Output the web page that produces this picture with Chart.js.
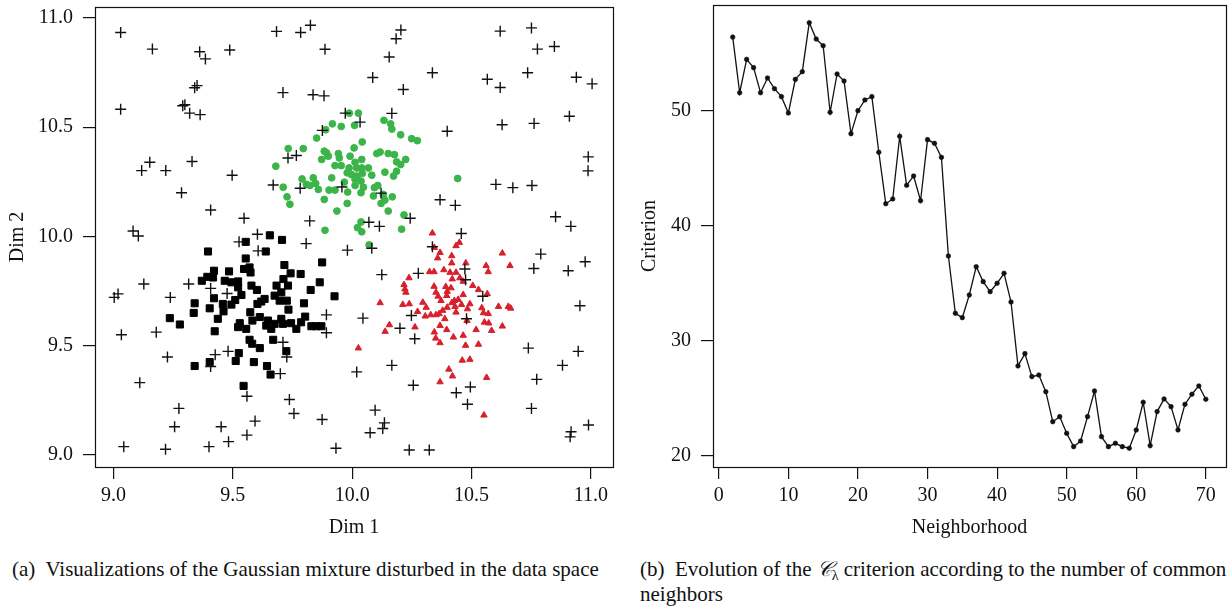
<!DOCTYPE html>
<html>
<head>
<meta charset="utf-8">
<script src="https://cdn.jsdelivr.net/npm/chart.js@4/dist/chart.umd.min.js"></script>
<style>
  body { margin: 0; background: #fff; width: 1232px; height: 609px; position: relative; overflow: hidden; }
  canvas { position: absolute; top: 0; }
  #leftChart { left: 0; }
  #rightChart { left: 620px; }
  .caption { position: absolute; font-family: "Liberation Serif", serif; font-size: 21px; color: #111; line-height: 25px; white-space: nowrap; }
  .scr { font-family: "DejaVu Serif", "DejaVu Sans", serif; font-style: italic; }
  .caption sub { font-size: 14px; line-height: 0; vertical-align: -4px; }
</style>
</head>
<body>
<canvas id="leftChart" width="625" height="540"></canvas>
<canvas id="rightChart" width="612" height="540"></canvas>
<div class="caption" style="left:12px; top:557px;">(a)&nbsp; Visualizations of the Gaussian mixture disturbed in the data space</div>
<div class="caption" style="left:640px; top:557px;">(b)&nbsp; Evolution of the <span class="scr">𝒞</span><sub>λ</sub> criterion according to the number of common<br>neighbors</div>

<script>
// panel (a) - scatter of gaussian clusters + uniform noise
// panel (b) - criterion vs neighborhood size

// ============================
// DATA
// ============================
const xTicksA = [9.0, 9.5, 10.0, 10.5, 11.0];
const yTicksA = [9.0, 9.5, 10.0, 10.5, 11.0];

// noise points (crosses)
const noisePts = [
  [9.030,10.933],[9.163,10.857],[9.361,10.845],[9.385,10.812],[9.487,10.853],[9.683,10.938],
  [9.784,10.933],[9.825,10.966],[9.886,10.856],[9.350,10.690],[9.340,10.680],[9.710,10.658],
  [9.836,10.648],[9.882,10.643],[9.030,10.582],[9.299,10.602],[9.290,10.598],[9.319,10.564],
  [9.363,10.557],[9.971,10.564],[9.875,10.485],[9.152,10.339],[9.118,10.301],[9.219,10.301],
  [9.329,10.343],[9.497,10.280],[9.731,10.359],[9.766,10.370],[9.669,10.235],[9.782,10.220],
  [9.957,10.226],[9.285,10.200],[9.407,10.121],[9.547,10.083],[9.822,10.071],[9.082,10.025],
  [9.104,10.002],[9.603,10.010],
  [10.204,10.944],[10.184,10.904],[10.155,10.821],[10.086,10.727],[10.336,10.749],[10.214,10.672],
  [10.620,10.939],[10.751,10.954],[10.776,10.857],[10.847,10.869],[10.566,10.719],[10.620,10.681],
  [10.735,10.749],[10.939,10.728],[11.005,10.698],[10.166,10.563],[10.033,10.523],[10.398,10.481],
  [10.628,10.511],[10.762,10.517],[10.910,10.550],[10.989,10.364],[10.988,10.300],[10.602,10.238],
  [10.673,10.223],[10.753,10.233],[10.121,10.198],[10.368,10.168],[10.432,10.142],[10.243,10.083],
  [10.070,10.065],[10.114,10.046],[10.852,10.090],[10.916,10.046],[10.457,10.013],
  [9.526,9.975],[9.606,9.934],[9.807,9.967],[9.980,9.937],[9.127,9.782],[9.315,9.782],
  [9.019,9.737],[9.003,9.721],[9.238,9.721],[9.407,9.762],[9.476,9.739],[9.033,9.550],
  [9.179,9.562],[9.892,9.641],[9.892,9.559],[9.710,9.516],[9.226,9.448],[9.426,9.459],
  [9.480,9.474],[9.407,9.405],[9.726,9.448],[9.699,9.372],[9.110,9.331],[9.559,9.269],
  [9.737,9.254],[9.756,9.190],[9.274,9.213],[9.256,9.129],[9.451,9.129],[9.593,9.155],
  [9.559,9.091],[9.482,9.061],[9.400,9.038],[9.874,9.162],[9.932,9.031],[9.043,9.038],
  [9.218,9.026],
  [10.082,9.946],[10.336,9.953],[10.790,9.919],[10.976,9.884],[10.761,9.853],[10.905,9.843],
  [10.124,9.825],[10.277,9.831],[10.472,9.851],[10.475,9.802],[10.547,9.726],[10.954,9.683],
  [10.045,9.626],[10.248,9.638],[10.479,9.623],[10.200,9.580],[10.262,9.532],[10.738,9.489],
  [10.947,9.474],[10.166,9.410],[10.019,9.380],[10.881,9.410],[10.773,9.346],[10.256,9.319],
  [10.495,9.311],[10.436,9.285],[10.483,9.232],[10.751,9.213],[10.096,9.205],[10.135,9.147],
  [10.128,9.121],[10.075,9.102],[10.239,9.023],[10.323,9.023],[10.990,9.137],[10.917,9.106],
  [10.913,9.083]
];

// cluster 1 (black squares)
const squarePts = [
  [9.655,10.005],[9.706,9.984],[9.554,9.975],[9.638,9.931],[9.396,9.931],[9.554,9.899],
  [9.874,9.881],[9.716,9.869],[9.421,9.843],[9.484,9.840],[9.547,9.851],[9.570,9.858],
  [9.574,9.835],[9.742,9.831],[9.784,9.828],[9.393,9.815],[9.417,9.812],[9.370,9.797],
  [9.466,9.797],[9.522,9.794],[9.494,9.790],[9.712,9.805],[9.864,9.790],[9.522,9.767],
  [9.578,9.775],[9.683,9.775],[9.731,9.775],[9.601,9.755],[9.826,9.755],[9.536,9.732],
  [9.675,9.729],[9.703,9.744],[9.926,9.726],[9.421,9.717],[9.510,9.709],[9.633,9.714],
  [9.696,9.706],[9.726,9.706],[9.340,9.694],[9.458,9.691],[9.494,9.688],[9.603,9.691],
  [9.619,9.702],[9.798,9.694],[9.403,9.671],[9.461,9.657],[9.336,9.650],[9.573,9.653],
  [9.733,9.665],[9.236,9.626],[9.437,9.623],[9.613,9.631],[9.582,9.615],[9.647,9.615],
  [9.703,9.623],[9.803,9.633],[9.278,9.597],[9.529,9.603],[9.522,9.585],[9.556,9.577],
  [9.640,9.592],[9.661,9.577],[9.675,9.600],[9.710,9.600],[9.744,9.603],[9.766,9.577],
  [9.786,9.607],[9.829,9.589],[9.849,9.589],[9.871,9.589],[9.424,9.566],[9.570,9.527],
  [9.581,9.509],[9.669,9.527],[9.613,9.489],[9.724,9.475],[9.525,9.466],[9.512,9.430],
  [9.403,9.425],[9.340,9.407],[9.588,9.425],[9.643,9.407],[9.658,9.368],[9.545,9.316]
];

// cluster 2 (green circles)
const circlePts = [
  [9.988,10.564],[10.026,10.564],[9.917,10.515],[9.954,10.503],[10.010,10.508],[9.889,10.488],
  [9.851,10.450],[10.133,10.531],[10.161,10.515],[10.166,10.491],[10.203,10.465],[10.249,10.447],
  [10.273,10.438],[10.042,10.432],[9.732,10.402],[9.795,10.402],[10.008,10.405],[9.883,10.390],
  [9.893,10.382],[9.900,10.367],[9.872,10.352],[9.942,10.379],[9.946,10.359],[9.991,10.367],
  [10.040,10.352],[10.103,10.379],[10.117,10.386],[10.151,10.379],[10.177,10.374],[10.224,10.352],
  [10.186,10.341],[10.203,10.329],[9.680,10.321],[9.928,10.324],[9.954,10.324],[10.012,10.339],
  [9.987,10.313],[10.019,10.313],[10.040,10.313],[10.068,10.313],[10.137,10.294],[10.186,10.298],
  [10.173,10.276],[9.979,10.291],[9.997,10.283],[10.019,10.276],[10.042,10.288],[10.082,10.280],
  [9.790,10.263],[9.837,10.268],[9.914,10.268],[9.967,10.248],[10.012,10.261],[10.037,10.253],
  [9.808,10.238],[9.823,10.233],[9.847,10.242],[9.711,10.225],[9.858,10.215],[9.903,10.212],
  [9.928,10.212],[9.981,10.203],[10.012,10.233],[10.047,10.225],[10.093,10.223],[10.107,10.233],
  [10.037,10.200],[10.089,10.185],[10.130,10.192],[10.168,10.181],[9.727,10.181],[9.739,10.147],
  [9.883,10.169],[9.979,10.151],[10.121,10.151],[10.137,10.166],[9.936,10.116],[10.151,10.116],
  [10.217,10.098],[10.037,10.066],[10.022,10.040],[10.040,10.021],[9.886,10.028],[10.207,10.033],
  [10.071,9.961],[10.442,10.265]
];

// cluster 3 (red triangles)
const trianglePts = [
  [10.336,10.015],[10.449,9.972],[10.435,9.957],[10.344,9.949],[10.368,9.926],[10.358,9.901],
  [10.417,9.911],[10.629,9.923],[10.476,9.878],[10.417,9.878],[10.561,9.866],[10.661,9.866],
  [10.324,9.838],[10.343,9.838],[10.384,9.847],[10.410,9.835],[10.435,9.835],[10.570,9.838],
  [10.238,9.810],[10.451,9.810],[10.419,9.805],[10.217,9.779],[10.343,9.771],[10.392,9.770],
  [10.414,9.764],[10.465,9.794],[10.505,9.775],[10.529,9.756],[10.221,9.759],[10.225,9.744],
  [10.351,9.744],[10.398,9.748],[10.566,9.737],[10.465,9.733],[10.360,9.726],[10.396,9.729],
  [10.372,9.706],[10.428,9.706],[10.444,9.711],[10.296,9.698],[10.417,9.696],[10.458,9.688],
  [10.493,9.691],[10.117,9.696],[10.212,9.688],[10.239,9.691],[10.310,9.675],[10.398,9.675],
  [10.431,9.679],[10.543,9.673],[10.613,9.679],[10.654,9.679],[10.664,9.671],[10.274,9.656],
  [10.306,9.635],[10.329,9.641],[10.351,9.641],[10.364,9.646],[10.379,9.661],[10.435,9.653],
  [10.483,9.668],[10.550,9.650],[10.570,9.646],[10.388,9.623],[10.481,9.615],[10.554,9.607],
  [10.572,9.603],[10.156,9.595],[10.138,9.565],[10.263,9.585],[10.368,9.592],[10.396,9.573],
  [10.465,9.547],[10.519,9.573],[10.584,9.569],[10.629,9.589],[10.344,9.562],[10.350,9.534],
  [10.368,9.513],[10.424,9.539],[10.475,9.501],[10.529,9.506],[10.026,9.489],[10.461,9.433],
  [10.493,9.437],[10.405,9.392],[10.420,9.361],[10.563,9.354],[10.368,9.334],[10.552,9.182]
];

// panel (b)
const neighborhood = [
  2, 3, 4, 5, 6, 7, 8, 9, 10, 11, 12, 13, 14, 15, 16, 17, 18, 19, 20, 21, 22, 23,
  24, 25, 26, 27, 28, 29, 30, 31, 32, 33, 34, 35, 36, 37, 38, 39, 40, 41, 42, 43, 44, 45,
  46, 47, 48, 49, 50, 51, 52, 53, 54, 55, 56, 57, 58, 59, 60, 61, 62, 63, 64, 65, 66,
  67, 68, 69, 70
];
const criterion = [
  56.43, 51.59, 54.49, 53.77, 51.59, 52.87, 51.94, 51.25, 49.83, 52.75, 53.42, 57.68,
  56.26, 55.68, 49.89, 53.22, 52.61, 48.03, 50.03, 50.96, 51.25, 46.41, 41.94, 42.35,
  47.80, 43.54, 44.35, 42.20, 47.51, 47.19, 45.97, 37.39, 32.41, 32.03, 34.00, 36.46,
  35.16, 34.29, 35.02, 35.89, 33.39, 27.83, 28.90, 26.90, 27.04, 25.59, 22.98, 23.42,
  21.97, 20.81, 21.30, 23.42, 25.65, 21.68, 20.81, 21.10, 20.81, 20.67, 22.26, 24.67,
  20.90, 23.86, 24.96, 24.29, 22.26, 24.49, 25.37, 26.09, 24.93
];
const xTicksB = [0, 10, 20, 30, 40, 50, 60, 70];
const yTicksB = [20, 30, 40, 50];

// ============================
// SHARED STYLE
// ============================
const FONT = "'Liberation Serif', 'Times New Roman', serif";
const INK = "#111";

// draws the full box around the plot region
const boxPlugin = {
  id: "box",
  afterDatasetsDraw(chart) {
    const { ctx, chartArea: a } = chart;
    ctx.save();
    ctx.strokeStyle = INK;
    ctx.lineWidth = 1.2;
    ctx.strokeRect(Math.round(a.left) + 0.5, Math.round(a.top) + 0.5,
      Math.round(a.right - a.left), Math.round(a.bottom - a.top));
    ctx.restore();
  }
};

function makeAxis(opts) {
  return {
    type: "linear",
    min: opts.min,
    max: opts.max,
    afterBuildTicks: s => { s.ticks = opts.ticks.map(v => ({ value: v })); },
    afterFit: s => {
      // fixed axis sizes, no extra padding for the end labels
      if (opts.width) s.width = opts.width;
      if (opts.height) s.height = opts.height;
      s.paddingTop = 0;
      s.paddingBottom = 0;
      s.paddingLeft = 0;
      s.paddingRight = 0;
    },
    border: { display: false },
    grid: { drawOnChartArea: false, drawTicks: true, tickLength: 12, color: INK, lineWidth: 1.2 },
    ticks: {
      autoSkip: false,
      maxRotation: 0,
      padding: opts.labelPad,
      color: INK,
      font: { family: FONT, size: 20 },
      callback: opts.format
    },
    title: {
      display: true,
      text: opts.title,
      color: INK,
      font: { family: FONT, size: 20 },
      padding: { top: opts.titlePad, bottom: 0 }
    }
  };
}

const toXY = p => ({ x: p[0], y: p[1] });

// ============================
// PANEL (a)
// ============================
new Chart(document.getElementById("leftChart"), {
  type: "scatter",
  data: {
    datasets: [
      {
        label: "noise",
        data: noisePts.map(toXY),
        pointStyle: "cross",
        pointRadius: 5.5,
        borderColor: INK,
        borderWidth: 1.4
      },
      {
        label: "cluster 1",
        data: squarePts.map(toXY),
        pointStyle: "rect",
        pointRadius: 5,
        backgroundColor: "#000",
        borderColor: "#000",
        borderWidth: 1
      },
      {
        label: "cluster 2",
        data: circlePts.map(toXY),
        pointStyle: "circle",
        pointRadius: 3.4,
        backgroundColor: "#3bb44a",
        borderColor: "#3bb44a",
        borderWidth: 1
      },
      {
        label: "cluster 3",
        data: trianglePts.map(toXY),
        pointStyle: "triangle",
        pointRadius: 3.7,
        backgroundColor: "#d7202c",
        borderColor: "#d7202c",
        borderWidth: 1
      }
    ]
  },
  options: {
    responsive: false,
    animation: false,
    devicePixelRatio: 1,
    layout: { padding: { left: 0, top: 5, right: 12, bottom: 0 } },
    plugins: { legend: { display: false }, tooltip: { enabled: false } },
    scales: {
      x: makeAxis({ min: 8.9225, max: 11.0926, ticks: xTicksA, height: 73, labelPad: 5,
        titlePad: 2, title: "Dim 1", format: v => v.toFixed(1) }),
      y: makeAxis({ min: 8.945, max: 11.05, ticks: yTicksA, width: 95, labelPad: 10,
        titlePad: 6, title: "Dim 2", format: v => v.toFixed(1) })
    }
  },
  plugins: [boxPlugin]
});

// ============================
// PANEL (b)
// ============================
new Chart(document.getElementById("rightChart"), {
  type: "line",
  data: {
    datasets: [
      {
        label: "criterion",
        data: neighborhood.map((n, i) => ({ x: n, y: criterion[i] })),
        borderColor: INK,
        borderWidth: 1.3,
        pointRadius: 2.3,
        pointBackgroundColor: INK,
        pointBorderColor: INK,
        pointBorderWidth: 0.6,
        tension: 0,
        fill: false
      }
    ]
  },
  options: {
    responsive: false,
    animation: false,
    devicePixelRatio: 1,
    layout: { padding: { left: 0, top: 5, right: 6, bottom: 0 } },
    plugins: { legend: { display: false }, tooltip: { enabled: false } },
    scales: {
      x: makeAxis({ min: -0.834, max: 72.9, ticks: xTicksB, height: 73, labelPad: 5,
        titlePad: 2, title: "Neighborhood", format: v => String(v) }),
      y: makeAxis({ min: 19.04, max: 59.22, ticks: yTicksB, width: 93, labelPad: 10,
        titlePad: 18, title: "Criterion", format: v => String(v) })
    }
  },
  plugins: [boxPlugin]
});
</script>
</body>
</html>
